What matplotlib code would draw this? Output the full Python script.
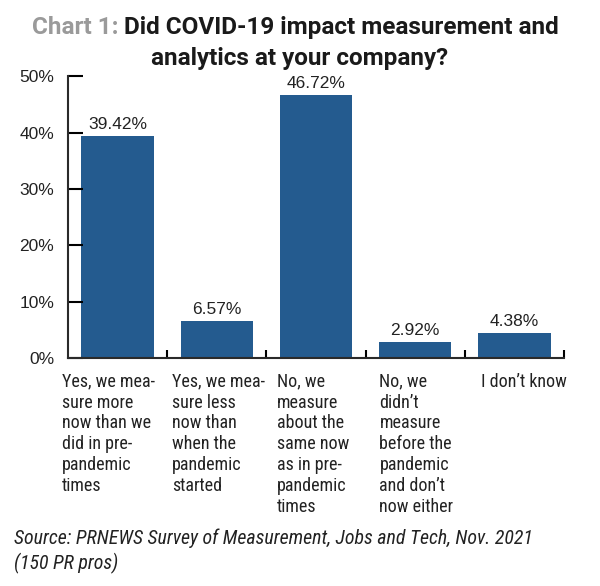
import matplotlib
matplotlib.use("Agg")
import matplotlib.pyplot as plt
from matplotlib import font_manager

# datos del grafico
categorias = [
    "Yes, we mea-\nsure more\nnow than we\ndid in pre-\npandemic\ntimes",
    "Yes, we mea-\nsure less\nnow than\nwhen the\npandemic\nstarted",
    "No, we\nmeasure\nabout the\nsame now\nas in pre-\npandemic\ntimes",
    "No, we\ndidn\u2019t\nmeasure\nbefore the\npandemic\nand don\u2019t\nnow either",
    "I don\u2019t know",
]
valores = [39.42, 6.57, 46.72, 2.92, 4.38]
yticks = [0, 10, 20, 30, 40, 50]
# posicion izquierda de cada etiqueta (en unidades del eje x)
label_left = [-0.56, 0.55, 1.61, 2.64, 3.66]


def primera(preferidas, defecto="DejaVu Sans"):
    nombres = {f.name for f in font_manager.fontManager.ttflist}
    return next((p for p in preferidas if p in nombres), defecto)


narrow = primera(["Roboto Condensed", "Archivo Narrow", "PT Sans Narrow", "Fira Sans Condensed", "Roboto"])
arial = primera(["Liberation Sans", "Arimo", "Roboto"])
titulo_font = primera(["Roboto", "Liberation Sans"])
plt.rcParams["font.family"] = [narrow, "DejaVu Sans"]

azul = "#245b8f"
texto = "#222222"

fig = plt.figure(figsize=(6, 5.86), dpi=100)
ax = fig.add_axes([0.1133, 0.389, 0.8267, 0.481])

x = list(range(len(valores)))
ax.bar(x, valores, width=0.73, color=azul)
ax.set_xlim(-0.5, len(valores) - 0.5)
ax.set_ylim(0, 50)

for xi, v in zip(x, valores):
    ax.text(xi, v + 0.7, f"{v:.2f}%", ha="center", va="bottom", fontsize=12.5,
            color=texto, family=[arial, "DejaVu Sans"])

ax.set_yticks(yticks)
ax.set_yticklabels([f"{t}%" for t in yticks], fontsize=12.5, color=texto, family=[arial, "DejaVu Sans"])
ax.tick_params(axis="y", direction="in", length=11, width=1.5, pad=10)
ax.set_xticks([i + 0.5 for i in range(len(valores))])
ax.set_xticklabels([])
ax.tick_params(axis="x", direction="in", length=6, width=1.5)

for s in ["top", "right"]:
    ax.spines[s].set_visible(False)
for s in ["left", "bottom"]:
    ax.spines[s].set_linewidth(1.5)
    ax.spines[s].set_color("#2a2a2a")

for xl, lab in zip(label_left, categorias):
    ax.text(xl, -2.6, lab, ha="left", va="top", fontsize=13, color=texto,
            linespacing=1.2)

# titulo en dos colores; el tamano se ajusta al ancho del original
renderer = fig.canvas.get_renderer()


def ajustar(t, ancho_px):
    w = t.get_window_extent(renderer).width
    t.set_fontsize(t.get_fontsize() * ancho_px / w)


tam = 16
t1 = fig.text(0.053, 0.953, "Chart 1: ", fontsize=tam, fontweight="bold", color="#9a9a9a",
              va="center", ha="left", family=[titulo_font, "DejaVu Sans"])
t2 = ax.annotate("Did COVID-19 impact measurement and", xy=(1, 0), xycoords=t1,
                 fontsize=tam, fontweight="bold", color="#1a1a1a", va="bottom", ha="left",
                 family=[titulo_font, "DejaVu Sans"])
w_total = t1.get_window_extent(renderer).width + t2.get_window_extent(renderer).width
factor = 528 / w_total
t1.set_fontsize(tam * factor)
t2.set_fontsize(tam * factor)
t3 = fig.text(0.5, 0.9, "analytics at your company?", fontsize=tam * factor, fontweight="bold",
              color="#1a1a1a", va="center", ha="center", family=[titulo_font, "DejaVu Sans"])

s1 = fig.text(0.023, 0.082, "Source: PRNEWS Survey of Measurement, Jobs and Tech, Nov. 2021",
              fontsize=13, style="italic", color=texto, va="center", ha="left")
ajustar(s1, 517)
fig.text(0.023, 0.038, "(150 PR pros)", fontsize=s1.get_fontsize(), style="italic",
         color=texto, va="center", ha="left")

fig.savefig("out.png", dpi=100)
